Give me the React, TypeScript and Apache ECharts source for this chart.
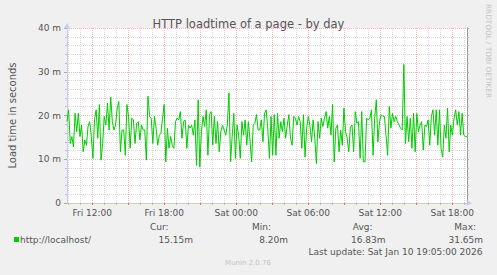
import React, { useEffect, useRef } from "react";
import * as echarts from "echarts";

const TITLE = "HTTP loadtime of a page - by day";
const Y_NAME = "Load time in seconds";
const WATERMARK = "RRDTOOL / TOBI OETIKER";
const VERSION = "Munin 2.0.76";
const LAST_UPDATE = "Last update: Sat Jan 10 19:05:00 2026";
const LEGEND_NAME = "http://localhost/";
const statHeaders = ["Cur:", "Min:", "Avg:", "Max:"];
const statValues = ["15.15m", "8.20m", "16.83m", "31.65m"];

// hours since Fri 00:00
const START_HOUR = 9.9; // ~Fri 09:54
const END_HOUR = 43.233; // ~Sat 19:14
const xTickHours = [12, 18, 24, 30, 36, 42];
const xTickLabels = ["Fri 12:00", "Fri 18:00", "Sat 00:00", "Sat 06:00", "Sat 12:00", "Sat 18:00"];
const hourLines = [10, 11, 13, 14, 16, 17, 19, 20, 22, 23, 25, 26, 28, 29, 31, 32, 34, 35, 37, 38, 40, 41, 43];
const threeHourLines = [12, 15, 18, 21, 24, 27, 30, 33, 36, 39, 42];

// load time in ms, evenly spaced from START_HOUR to END_HOUR
const loadTime = [
  18.6, 21.3, 13.6, 15.2, 12.8, 20.5, 16.3, 20.5, 15.2, 17.8, 11.7, 14.4, 13.2, 17.5, 18.6, 15.2, 10.2, 19.0, 21.3, 14.8, 22.5, 9.8, 13.6, 19.8, 17.8, 22.8, 16.7, 24.2, 18.6, 16.7,
  17.8, 21.7, 23.2, 11.7, 16.7, 16.7, 10.9, 22.5, 19.8, 12.5, 19.4, 19.0, 13.6, 18.2, 18.6, 14.4, 17.8, 16.7, 16.7, 9.8, 24.4, 19.8, 19.4, 13.6, 19.8, 17.1, 13.2, 15.5, 15.9, 19.4, 22.5, 9.4, 17.1, 12.5, 15.2,
  13.2, 12.5, 18.6, 19.4, 19.0, 20.9, 14.8, 18.6, 19.0, 12.5, 17.8, 17.1, 17.8, 15.5, 19.0, 8.6, 23.6, 8.2, 16.3, 19.8, 17.5, 21.3, 10.9, 20.2, 20.9, 13.2, 19.8, 13.6, 18.6, 11.7, 16.3, 17.8, 16.7, 15.5, 17.8, 25.2, 9.4, 15.2,
  20.5, 10.2, 17.8, 15.5, 10.2, 18.6, 15.5, 19.0, 13.2, 18.6, 14.4, 9.4, 17.8, 18.2, 20.2, 16.7, 16.7, 19.0, 14.0, 20.5, 21.3, 16.7, 10.2, 19.8, 10.9, 20.2, 10.9, 20.5, 14.8, 18.6, 16.3, 19.4, 14.8, 17.8, 20.2, 14.8,
  13.2, 19.8, 19.4, 17.8, 19.8, 18.6, 12.5, 20.2, 10.5, 17.1, 19.8, 17.8, 14.0, 19.0, 14.8, 9.0, 18.6, 14.8, 19.4, 17.5, 19.4, 20.9, 17.1, 19.8, 15.5, 22.5, 9.4, 17.1, 17.8, 11.7, 16.7, 13.2, 21.7, 16.3, 14.8, 11.7, 17.5,
  17.8, 11.7, 20.9, 18.2, 18.6, 10.2, 20.9, 9.4, 9.4, 19.4, 19.0, 19.4, 21.3, 10.9, 19.4, 23.6, 14.0, 18.6, 20.2, 19.8, 19.8, 15.5, 10.9, 22.1, 17.1, 20.5, 18.6, 19.8, 18.6, 17.8, 17.1, 16.7, 31.65, 13.6, 19.8, 14.0,
  19.4, 12.5, 20.5, 11.7, 20.5, 16.3, 17.8, 18.6, 12.1, 17.8, 17.5, 19.0, 13.2, 19.8, 21.3, 15.5, 21.3, 13.2, 21.3, 12.5, 10.5, 17.8, 14.8, 21.7, 11.7, 17.8, 15.5, 19.4, 21.3, 17.8, 20.9, 15.5, 20.5, 15.5, 15.2, 15.15,
];

const FONT = "DejaVu Sans";
const TEXT = "#555555";
const GREEN = "#00cc00";
const PINK = "#f0b8b8";
const GREY = "#dadada";
const AXIS_BLUE = "#c8c8f4";

export default function App() {
  const ref = useRef<HTMLDivElement>(null);
  useEffect(() => {
    if (!ref.current) return;
    const chart = echarts.init(ref.current, undefined, { renderer: "svg" });
    const n = loadTime.length;
    const step = (END_HOUR - START_HOUR) / (n - 1);
    const seriesData = loadTime.map((v, i) => [START_HOUR + i * step, v]);

    const statX = [168.5, 271, 372.5, 476];
    const valX = [193, 288, 385.5, 483];
    const graphics: any[] = [
      {
        type: "text",
        x: 12,
        y: 115.5,
        rotation: Math.PI / 2,
        style: { text: Y_NAME, font: `10px ${FONT}`, fill: TEXT, textAlign: "center", textVerticalAlign: "middle" },
      },
      {
        type: "text",
        x: 488,
        y: 51,
        rotation: -Math.PI / 2,
        style: { text: WATERMARK, font: `7.3px ${FONT}`, fill: "#c4c4c4", textAlign: "center", textVerticalAlign: "middle" },
      },
      { type: "rect", shape: { x: 14, y: 237, width: 5, height: 5 }, style: { fill: GREEN } },
      {
        type: "text",
        x: 20,
        y: 239.5,
        style: { text: LEGEND_NAME, font: `9px ${FONT}`, fill: TEXT, textAlign: "left", textVerticalAlign: "middle" },
      },
      {
        type: "text",
        x: 482.5,
        y: 251.5,
        style: { text: LAST_UPDATE, font: `9px ${FONT}`, fill: TEXT, textAlign: "right", textVerticalAlign: "middle" },
      },
      {
        type: "text",
        x: 248,
        y: 262.5,
        style: { text: VERSION, font: `7px ${FONT}`, fill: "#c4c4c4", textAlign: "center", textVerticalAlign: "middle" },
      },
    ];
    statHeaders.forEach((h, i) => {
      graphics.push({
        type: "text",
        x: statX[i],
        y: 226.5,
        style: { text: h, font: `9px ${FONT}`, fill: TEXT, textAlign: "right", textVerticalAlign: "middle" },
      });
      graphics.push({
        type: "text",
        x: valX[i],
        y: 239.5,
        style: { text: statValues[i], font: `9px ${FONT}`, fill: TEXT, textAlign: "right", textVerticalAlign: "middle" },
      });
    });

    chart.setOption({
      animation: false,
      backgroundColor: "#f0f0f0",
      title: {
        text: TITLE,
        left: "center",
        top: 13,
        textStyle: { fontFamily: FONT, fontSize: 11.5, fontWeight: "normal", color: "#555" },
      },
      grid: { left: 67, right: 30, top: 28, bottom: 72, show: true, backgroundColor: "#ffffff", borderWidth: 0 },
      xAxis: [
        {
          type: "value",
          min: START_HOUR,
          max: END_HOUR,
          position: "bottom",
          axisLine: {
            show: true,
            lineStyle: { color: AXIS_BLUE, width: 1 },
            symbol: ["none", "arrow"],
            symbolSize: [5, 6],
            symbolOffset: [0, 5],
          },
          axisTick: { show: true, customValues: hourLines, length: 2, lineStyle: { color: "#bbbbbb" } },
          splitLine: { show: true, lineStyle: { color: GREY, type: [1, 1], width: 1 } },
          axisLabel: {
            show: true,
            customValues: xTickHours,
            margin: 5,
            fontFamily: FONT,
            fontSize: 9,
            color: TEXT,
            formatter: (v: number) => xTickLabels[xTickHours.indexOf(v)] ?? "",
          },
        },
        {
          type: "value",
          min: START_HOUR,
          max: END_HOUR,
          position: "bottom",
          axisLine: { show: false },
          axisTick: { show: true, customValues: threeHourLines, length: 2, lineStyle: { color: "#e07070" } },
          splitLine: { show: true, lineStyle: { color: PINK, type: [1, 1], width: 1 } },
          axisLabel: { show: false },
        },
      ],
      yAxis: [
        {
          type: "value",
          min: 0,
          max: 40,
          interval: 10,
          position: "left",
          axisLine: {
            show: true,
            lineStyle: { color: AXIS_BLUE, width: 1 },
            symbol: ["none", "arrow"],
            symbolSize: [5, 6],
            symbolOffset: [0, 5],
          },
          axisTick: { show: true, length: 3, lineStyle: { color: "#aaaaaa" } },
          minorTick: { show: true, splitNumber: 5, length: 2, lineStyle: { color: "#bbbbbb" } },
          splitLine: { show: true, lineStyle: { color: PINK, type: [1, 1], width: 1 } },
          minorSplitLine: { show: true, lineStyle: { color: GREY, type: [1, 1], width: 1 } },
          axisLabel: {
            margin: 6,
            fontFamily: FONT,
            fontSize: 9,
            color: TEXT,
            formatter: (v: number) => (v === 0 ? "0" : `${v} m`),
          },
        },
        {
          type: "value",
          min: 0,
          max: 40,
          interval: 10,
          position: "right",
          axisLine: { show: true, lineStyle: { color: "#999999", width: 1 } },
          axisTick: { show: true, length: 2, lineStyle: { color: "#aaaaaa" } },
          minorTick: { show: true, splitNumber: 5, length: 2, lineStyle: { color: "#bbbbbb" } },
          splitLine: { show: false },
          axisLabel: { show: false },
        },
      ],
      series: [
        {
          type: "line",
          name: LEGEND_NAME,
          xAxisIndex: 0,
          yAxisIndex: 0,
          data: seriesData,
          showSymbol: false,
          symbol: "none",
          lineStyle: { color: GREEN, width: 1 },
          z: 5,
        },
      ],
      graphic: graphics,
    });
    return () => chart.dispose();
  }, []);
  return <div ref={ref} style={{ position: "fixed", left: 0, top: 0, width: 497, height: 275 }} />;
}
